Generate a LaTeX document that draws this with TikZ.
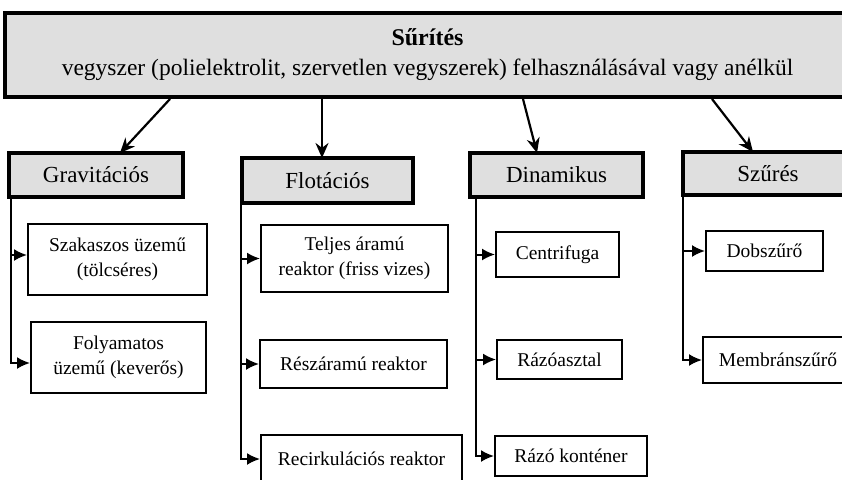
\documentclass[tikz,border=0pt]{standalone}
\usepackage{fontspec}
\setmainfont{Liberation Serif}
\usetikzlibrary{arrows.meta}
\definecolor{boxgray}{RGB}{223,223,223}
\tikzset{
  headbox/.style={draw=black, fill=boxgray, line width=4pt, inner sep=0pt, align=center,
    font=\fontsize{23.5}{30}\selectfont},
  catbox/.style={draw=black, fill=boxgray, line width=3.6pt, inner sep=0pt, align=center,
    font=\fontsize{23}{27}\selectfont},
  itembox/.style={draw=black, fill=white, line width=2pt, inner sep=0pt, align=center,
    font=\fontsize{19.5}{25}\selectfont},
  toparrow/.style={line width=2.2pt, -{Stealth[length=15pt,width=13pt]}},
  branch/.style={line width=2pt, -{Latex[length=13pt,width=12pt]}},
}
\begin{document}
\begin{tikzpicture}[x=1pt,y=-1pt]
\useasboundingbox (0,0) rectangle (842,479);

% main process box
\node[headbox, minimum width=845, minimum height=84] (main) at (427.5,55)
  {{\bfseries\fontsize{24}{30}\selectfont Sűrítés}\\vegyszer (polielektrolit, szervetlen vegyszerek) felhasználásával vagy anélkül};

% method categories
\node[catbox, minimum width=174, minimum height=44] (grav) at (96,175) {Gravitációs};
\node[catbox, minimum width=171, minimum height=45] (flot) at (327.5,180.5) {Flotációs};
\node[catbox, minimum width=173, minimum height=44] (din)  at (556.5,175) {Dinamikus};
\node[catbox, minimum width=170, minimum height=43] (szur) at (768,173.5) {Szűrés};

% arrows from the main box to the categories
\coordinate (m1) at (170,99);
\coordinate (m2) at (322,99);
\coordinate (m3) at (523,99);
\coordinate (m4) at (712,99);
\coordinate (c1) at (120,153);
\coordinate (c2) at (322,158);
\coordinate (c3) at (537,153);
\coordinate (c4) at (753,152);
\draw[toparrow] (m1) -- (c1);
\draw[toparrow] (m2) -- (c2);
\draw[toparrow] (m3) -- (c3);
\draw[toparrow] (m4) -- (c4);

% equipment types
\node[itembox, minimum width=179, minimum height=71] (szak)  at (117.5,259.5) {Szakaszos üzemű\\(tölcséres)};
\node[itembox, minimum width=175, minimum height=71] (foly)  at (118.5,357.5) {Folyamatos\\üzemű (keverős)};

\node[itembox, minimum width=187, minimum height=67] (telj)  at (354.5,258.5) {Teljes áramú\\reaktor (friss vizes)};
\node[itembox, minimum width=187, minimum height=48] (resz)  at (353.5,364) {Részáramú reaktor};
\node[itembox, minimum width=201, minimum height=48] (recir) at (361.5,459) {Recirkulációs reaktor};

\node[itembox, minimum width=123, minimum height=45] (centr) at (557.5,254.5) {Centrifuga};
\node[itembox, minimum width=125, minimum height=39] (razoa) at (559.5,359.5) {Rázóasztal};
\node[itembox, minimum width=152, minimum height=40] (razok) at (571,456) {Rázó konténer};

\node[itembox, minimum width=117, minimum height=40] (dob)   at (764.5,251) {Dobszűrő};
\node[itembox, minimum width=150, minimum height=46] (memb)  at (778,360) {Membránszűrő};

% trunks under each category
\coordinate (gv) at ([xshift=4pt]grav.south west);
\coordinate (fv) at ([xshift=1pt]flot.south west);
\coordinate (dv) at ([xshift=8pt]din.south west);
\coordinate (sv) at ([xshift=2pt]szur.south west);

% the two gravity branches meet their boxes off centre
\coordinate (szakin) at ([yshift=4.5pt]szak.west);
\coordinate (folyin) at ([yshift=-5.5pt]foly.west);

\draw[branch] (gv) |- (szakin);
\draw[branch] (gv) |- (folyin);
\draw[branch] (fv) |- (telj.west);
\draw[branch] (fv) |- (resz.west);
\draw[branch] (fv) |- (recir.west);
\draw[branch] (dv) |- (centr.west);
\draw[branch] (dv) |- (razoa.west);
\draw[branch] (dv) |- (razok.west);
\draw[branch] (sv) |- (dob.west);
\draw[branch] (sv) |- (memb.west);
\end{tikzpicture}
\end{document}
